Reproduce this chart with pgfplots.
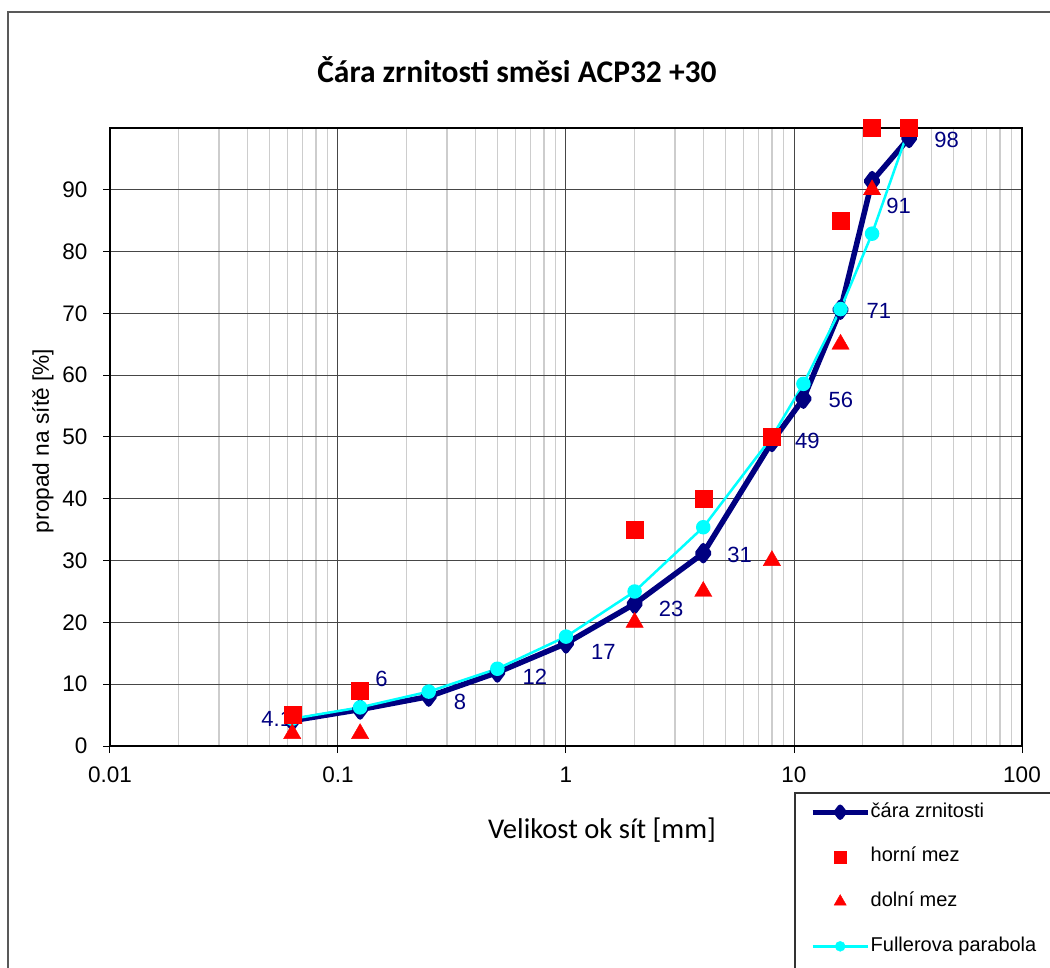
\documentclass[border=0pt]{standalone}
\usepackage{fontspec}
\setmainfont{Liberation Sans}
\newfontfamily\carlito{Carlito}
\usepackage{pgfplots}
\pgfplotsset{compat=1.18}
\definecolor{navyline}{RGB}{0,0,128}
\definecolor{fuller}{RGB}{0,255,255}
\definecolor{mezred}{RGB}{255,0,0}
\definecolor{gridmaj}{RGB}{70,70,70}
\definecolor{gridmin}{RGB}{205,205,205}
\tikzset{lbl/.style={navyline, inner sep=0pt, font=\fontsize{22}{26}\selectfont}}

\begin{document}
\begin{tikzpicture}[x=1pt,y=1pt]
\path[use as bounding box, clip] (0,0) rectangle (1050,967);
\draw[line width=1.3pt, black!65] (8,-20) -- (8,955) -- (1080,955);
\node[font=\carlito\bfseries\fontsize{31.5}{36}\selectfont] at (517,897) {Čára zrnitosti směsi ACP32 +30};
\begin{axis}[
    at={(110pt,221pt)}, anchor=south west,
    width=912pt, height=618pt, scale only axis,
    xmode=log, log basis x=10,
    xmin=0.01, xmax=100, ymin=0, ymax=100,
    xtick={0.01,0.1,1,10,100}, xticklabels={0.01,0.1,1,10,100},
    minor xtick={0.02,0.03,0.04,0.05,0.06,0.07,0.08,0.09,
                 0.2,0.3,0.4,0.5,0.6,0.7,0.8,0.9,
                 2,3,4,5,6,7,8,9,20,30,40,50,60,70,80,90},
    ytick={0,10,...,90},
    grid=both,
    major grid style={gridmaj, line width=1pt},
    minor grid style={gridmin, line width=1.5pt},
    axis line style={black, line width=1.2pt},
    tick align=outside, tick pos=left,
    major tick length=7pt, minor tick length=0pt,
    tick style={black, line width=1pt},
    /pgf/number format/assume math mode=true,
    ticklabel style={font=\fontsize{22.5}{27}\selectfont},
    xticklabel style={anchor=center, yshift=-22pt},
    yticklabel style={anchor=east, xshift=-12pt},
    xlabel={Velikost ok sít [mm]},
    x label style={at={(axis description cs:0.5395,-0.1359)}, anchor=center,
                   font=\carlito\fontsize{28.6}{33}\selectfont},
    ylabel={propad na sítě [\%]},
    y label style={at={(axis description cs:-0.0735,0.4935)}, anchor=center,
                   font=\fontsize{22.7}{27}\selectfont},
    clip=false,
    legend style={at={(0.7511,-0.0761)}, anchor=north west, draw=none, fill=none,
                  inner xsep=15pt, inner ysep=10pt, row sep=26.7pt,
                  font=\fontsize{20}{24}\selectfont,
                  nodes={inner sep=0pt, text height=14pt, text depth=4pt}},
    legend cell align=left,
]
% grading curve
\addplot[navyline, line width=5.5pt, line join=round, mark=diamond*, mark size=7.5pt,
    legend image code/.code={
        \draw[navyline, line width=5pt] (0pt,0pt) -- (55pt,0pt);
        \draw[navyline, mark=diamond*, mark size=5pt] plot coordinates {(27.5pt,0pt)};
        \path[draw=none] (0pt,0pt) -- (58pt,0pt);}]
    coordinates {(0.063,4.1) (0.125,5.9) (0.25,8.0) (0.5,11.9) (1,16.6) (2,23.0)
                 (4,31.2) (8,49.2) (11,56.2) (16,70.6) (22,91.4) (32,98.4)};
\addlegendentry{čára zrnitosti}
\node[lbl, anchor=east, xshift=0pt, yshift=2pt] at (axis cs:0.063,4.1) {4.1};
\node[lbl, anchor=west, xshift=15pt, yshift=31pt] at (axis cs:0.125,5.9) {6};
\node[lbl, anchor=west, xshift=25pt, yshift=-5pt] at (axis cs:0.25,8.0) {8};
\node[lbl, anchor=west, xshift=25pt, yshift=-4pt] at (axis cs:0.5,11.9) {12};
\node[lbl, anchor=west, xshift=25pt, yshift=-9pt] at (axis cs:1,16.6) {17};
\node[lbl, anchor=west, xshift=24pt, yshift=-5pt] at (axis cs:2,23.0) {23};
\node[lbl, anchor=west, xshift=24pt, yshift=-2pt] at (axis cs:4,31.2) {31};
\node[lbl, anchor=west, xshift=23pt, yshift=1pt] at (axis cs:8,49.2) {49};
\node[lbl, anchor=west, xshift=25pt, yshift=-1pt] at (axis cs:11,56.2) {56};
\node[lbl, anchor=west, xshift=26pt, yshift=-1pt] at (axis cs:16,70.6) {71};
\node[lbl, anchor=west, xshift=14pt, yshift=-25pt] at (axis cs:22,91.4) {91};
\node[lbl, anchor=west, xshift=25pt, yshift=-2pt] at (axis cs:32,98.4) {98};
% Fuller parabola (drawn below the limit marks, legend entry added last)
\addplot[fuller, line width=2.5pt, line join=round, mark=*, mark size=6pt, forget plot]
    coordinates {(0.063,4.4) (0.125,6.25) (0.25,8.8) (0.5,12.5) (1,17.7) (2,25.0)
                 (4,35.4) (8,50.0) (11,58.6) (16,70.7) (22,82.9) (32,100)};
% upper limit
\addplot[only marks, mezred, mark=square*, mark size=8.5pt,
    legend image code/.code={
        \path[draw=none] (0pt,0pt) -- (58pt,0pt);
        \draw[mezred, mark=square*, mark size=6pt] plot coordinates {(27.5pt,0pt)};}]
    coordinates {(0.063,5) (0.125,9) (2,35) (4,40) (8,50) (16,85) (22,100) (32,100)};
\addlegendentry{horní mez}
% lower limit
\addplot[only marks, mezred, mark=triangle*, mark size=10pt,
    legend image code/.code={
        \path[draw=none] (0pt,0pt) -- (58pt,0pt);
        \draw[mezred, mark=triangle*, mark size=7pt] plot coordinates {(27.5pt,0pt)};}]
    coordinates {(0.063,2) (0.125,2) (2,20) (4,25) (8,30) (16,65) (22,90)};
\addlegendentry{dolní mez}
\addlegendimage{legend image code/.code={
        \draw[fuller, line width=2.5pt] (0pt,0pt) -- (55pt,0pt);
        \draw[fuller, mark=*, mark size=5pt] plot coordinates {(27.5pt,0pt)};
        \path[draw=none] (0pt,0pt) -- (58pt,0pt);}}
\addlegendentry{Fullerova parabola}
\end{axis}
\draw[line width=1.3pt, black!80] (795,-30) -- (795,174) -- (1080,174);
\end{tikzpicture}
\end{document}
